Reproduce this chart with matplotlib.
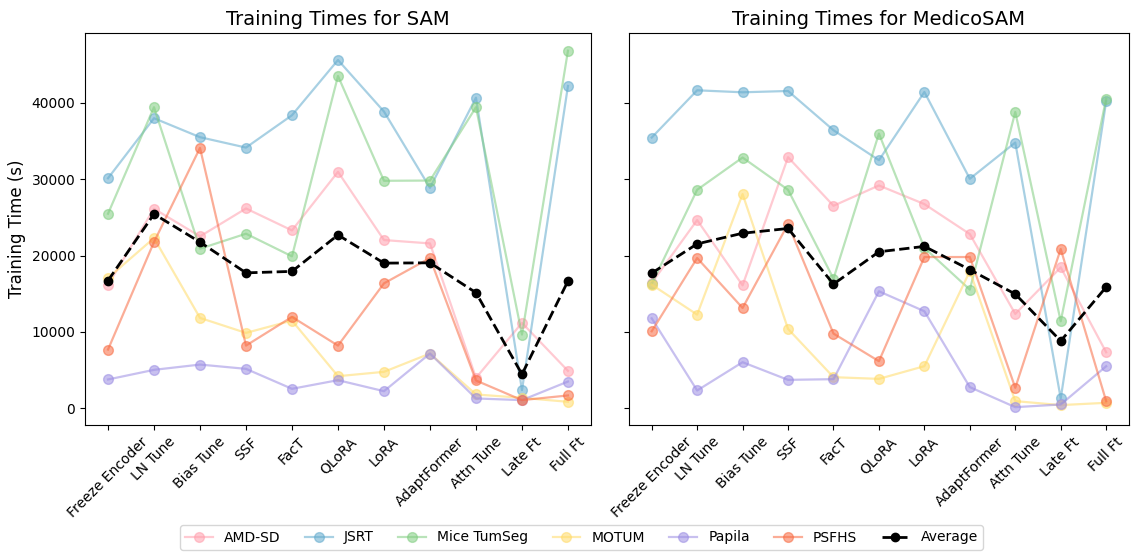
import matplotlib
matplotlib.use("Agg")
import matplotlib.pyplot as plt
import numpy as np

methods = ["Freeze Encoder", "LN Tune", "Bias Tune", "SSF", "FacT", "QLoRA",
           "LoRA", "AdaptFormer", "Attn Tune", "Late Ft", "Full Ft"]

datasets = ["AMD-SD", "JSRT", "Mice TumSeg", "MOTUM", "Papila", "PSFHS"]

sam_amd = [16190, 26110, 22500, 26150, 23280, 30940, 22020, 21580, 4000, 11190, 4920]
sam_jsrt = [30100, 37950, 35470, 34110, 38340, 45560, 38820, 28850, 40640, 2390, 42170]
sam_mice = [25460, 39390, 20890, 22850, 19890, 43470, 29770, 29800, 39390, 9660, 46780]
sam_motum = [17060, 22280, 11840, 9880, 11490, 4220, 4790, 7180, 1830, 1390, 870]
sam_papila = [3790, 5050, 5740, 5180, 2570, 3700, 2260, 7180, 1310, 1090, 3520]
sam_psfhs = [7700, 21760, 34070, 8220, 11970, 8220, 16360, 19670, 3660, 1090, 1700]

med_amd = [16400, 24630, 16100, 32850, 26500, 29160, 26720, 22800, 12360, 18450, 7350]
med_jsrt = [35420, 41600, 41340, 41510, 36380, 32460, 41380, 30030, 34770, 1310, 40170]
med_mice = [16270, 28590, 32810, 28590, 16970, 35940, 21000, 15540, 38770, 11400, 40520]
med_motum = [16190, 12270, 28030, 10400, 4090, 3870, 5530, 17940, 960, 440, 740]
med_papila = [11790, 2350, 6050, 3740, 3830, 15320, 12710, 2790, 170, 520, 5520]
med_psfhs = [10090, 19670, 13140, 24110, 9790, 6180, 19800, 19800, 2700, 20850, 960]

colors = ["#ff9fad", "#62aacd", "#80cd80", "#ffdb69", "#9b8de3", "#f86b42"]

sam = [sam_amd, sam_jsrt, sam_mice, sam_motum, sam_papila, sam_psfhs]
med = [med_amd, med_jsrt, med_mice, med_motum, med_papila, med_psfhs]

fig = plt.figure(figsize=(11.38, 5.57), dpi=100)
ax1 = fig.add_axes([0.0747, 0.237, 0.4446, 0.704])
ax2 = fig.add_axes([0.5527, 0.237, 0.4393, 0.704], sharey=ax1)

x = np.arange(len(methods))
handles = []
for ax, series, title in [(ax1, sam, "Training Times for SAM"),
                          (ax2, med, "Training Times for MedicoSAM")]:
    hs = []
    for name, vals, c in zip(datasets, series, colors):
        h, = ax.plot(x, vals, color=c, marker="o", markersize=7, linewidth=1.6,
                     alpha=0.55, label=name)
        hs.append(h)
    avg = np.mean(np.array(series), axis=0)
    h, = ax.plot(x, avg, color="black", marker="o", markersize=6, linewidth=2,
                 linestyle="--", label="Average")
    hs.append(h)
    handles = hs
    ax.set_title(title, fontsize=14)
    ax.set_xticks(x)
    ax.set_xticklabels(methods, rotation=45, fontsize=10)

ax1.set_ylabel("Training Time (s)", fontsize=12)
plt.setp(ax2.get_yticklabels(), visible=False)

fig.legend(handles=handles, labels=datasets + ["Average"], loc="lower center",
           ncol=7, fontsize=10, columnspacing=1.75, bbox_to_anchor=(0.511, 0.0))

fig.savefig("out.png", dpi=100)
